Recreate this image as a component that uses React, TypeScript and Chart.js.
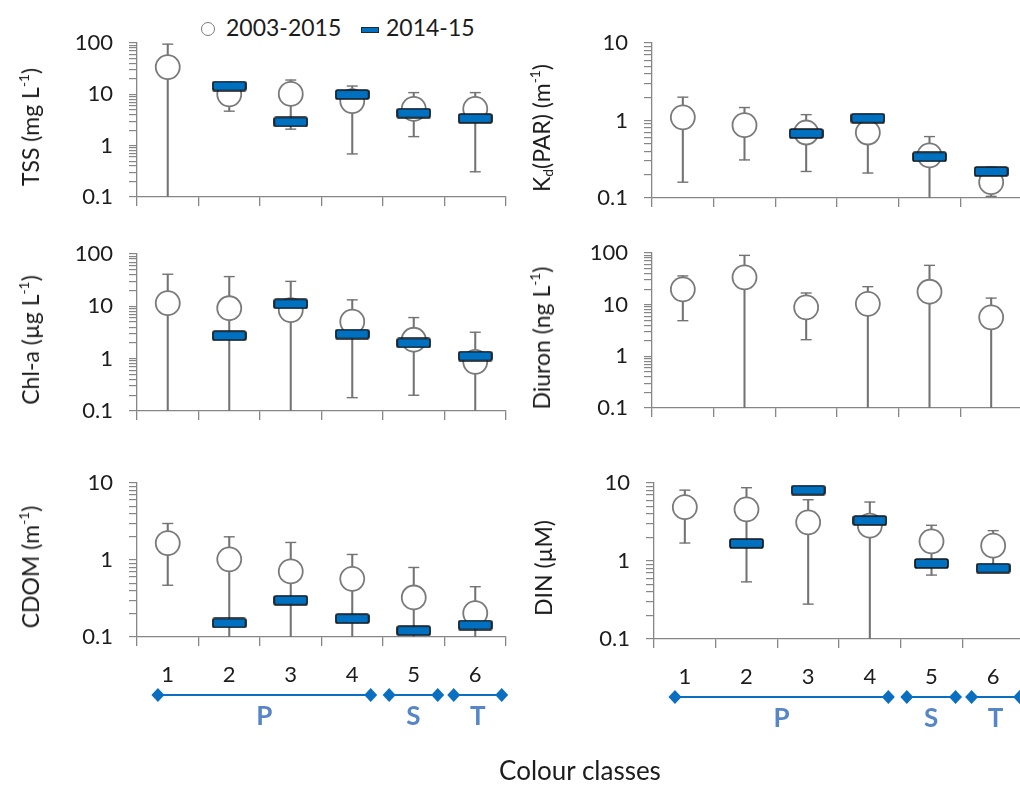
import React, { useEffect, useRef } from 'react';
import { Chart, registerables } from 'chart.js';

Chart.register(...registerables);
Chart.defaults.font.family = 'Lato';

// ---- categories ----
const classLabels = ['1', '2', '3', '4', '5', '6'];
const groupNames = ['P', 'S', 'T'];
// start / end of each group bracket, in colour-class units
const groupSpans = [
  [0.84, 4.3],
  [4.6, 5.39],
  [5.65, 6.43],
];

// ---- TSS (mg L-1) ----
const tssLongTerm = [34, 10, 10.2, 7.4, 5.2, 5.2];
const tssUpper = [95, 14, 19, 14.5, 10.8, 10.8];
const tssLower = [0.05, 4.7, 2.1, 0.69, 1.5, 0.31];
const tss2014 = [null, 14.5, 2.9, 9.9, 4.3, 3.4];
const tssDecades = [0.1, 1, 10, 100];

// ---- Kd(PAR) (m-1) ----
const kdLongTerm = [1.1, 0.87, 0.7, 0.7, 0.355, 0.16];
const kdUpper = [2.0, 1.47, 1.19, 1.2, 0.62, 0.25];
const kdLower = [0.16, 0.31, 0.22, 0.21, 0.05, 0.105];
const kd2014 = [null, null, 0.68, 1.07, 0.34, 0.22];
const kdDecades = [0.1, 1, 10];

// ---- Chl-a (ug L-1) ----
const chlLongTerm = [11.5, 9.2, 8.5, 5.1, 2.3, 0.87];
const chlUpper = [41, 37, 30, 13.3, 6.1, 3.2];
const chlLower = [0.05, 0.05, 0.05, 0.18, 0.2, 0.05];
const chl2014 = [null, 2.75, 11.2, 2.95, 2.0, 1.12];
const chlDecades = [0.1, 1, 10, 100];

// ---- Diuron (ng L-1) ----
const diuronLongTerm = [19.8, 33.8, 8.9, 10.4, 17.8, 5.7];
const diuronUpper = [36, 90, 16.8, 22.3, 57.7, 13.4];
const diuronLower = [4.9, 0.05, 2.1, 0.05, 0.05, 0.05];
const diuron2014 = [null, null, null, null, null, null];
const diuronDecades = [0.1, 1, 10, 100];

// ---- CDOM (m-1) ----
const cdomLongTerm = [1.66, 1.02, 0.71, 0.57, 0.326, 0.204];
const cdomUpper = [2.98, 2.0, 1.69, 1.18, 0.8, 0.45];
const cdomLower = [0.47, 0.05, 0.05, 0.05, 0.05, 0.05];
const cdom2014 = [null, 0.152, 0.3, 0.173, 0.121, 0.143];
const cdomDecades = [0.1, 1, 10];

// ---- DIN (uM) ----
const dinLongTerm = [4.9, 4.6, 3.13, 2.84, 1.79, 1.57];
const dinUpper = [8.1, 8.7, 6.1, 5.7, 2.87, 2.45];
const dinLower = [1.7, 0.54, 0.28, 0.05, 0.66, 0.85];
const din2014 = [null, 1.68, 8.1, 3.3, 0.93, 0.81];
const dinDecades = [0.1, 1, 10];

// ---- styling ----
const AXIS_GREY = '#868686';
const WHISKER_GREY = '#737373';
const CIRCLE_GREY = '#7a7a7a';
const RECENT_BLUE = '#0070c0';
const GROUP_BLUE = '#0a6fc1';
const GROUP_TEXT = '#5686c8';
const TEXT = '#1c1c1c';

const Y_AXIS_W = 110;
const PAD_TOP = 32;
const PAD_RIGHT = 14;
const TICK_FONT = 22;

function logTickValues(decades: number[]) {
  const vals: number[] = [];
  for (let i = 0; i < decades.length - 1; i++) {
    for (let m = 1; m <= 9; m++) vals.push(+(m * decades[i]).toPrecision(6));
  }
  vals.push(decades[decades.length - 1]);
  return vals;
}

function makeRecentMarker(w: number, h: number) {
  const c = document.createElement('canvas');
  c.width = w;
  c.height = h;
  const g = c.getContext('2d')!;
  g.fillStyle = RECENT_BLUE;
  g.strokeStyle = '#141414';
  g.lineWidth = 1.7;
  g.beginPath();
  if ((g as any).roundRect) (g as any).roundRect(1, 1, w - 2, h - 2, 2);
  else g.rect(1, 1, w - 2, h - 2);
  g.fill();
  g.stroke();
  return c;
}

function makeGroupPlugin(spans: number[][], names: string[]) {
  return {
    id: 'classGroups',
    afterDraw(chart: any) {
      const { ctx, chartArea } = chart;
      const xs = chart.scales.x;
      const yLine = chartArea.bottom + 58;
      const yText = chartArea.bottom + 80;
      ctx.save();
      spans.forEach((span, i) => {
        const x0 = xs.getPixelForValue(span[0] - 1);
        const x1 = xs.getPixelForValue(span[1] - 1);
        ctx.strokeStyle = GROUP_BLUE;
        ctx.lineWidth = 2;
        ctx.beginPath();
        ctx.moveTo(x0, yLine);
        ctx.lineTo(x1, yLine);
        ctx.stroke();
        ctx.fillStyle = GROUP_BLUE;
        [x0, x1].forEach((x) => {
          ctx.beginPath();
          ctx.moveTo(x, yLine - 7);
          ctx.lineTo(x + 6.5, yLine);
          ctx.lineTo(x, yLine + 7);
          ctx.lineTo(x - 6.5, yLine);
          ctx.closePath();
          ctx.fill();
        });
        ctx.fillStyle = GROUP_TEXT;
        ctx.font = 'bold 26px Lato';
        ctx.textAlign = 'center';
        ctx.textBaseline = 'middle';
        ctx.fillText(names[i], (x0 + x1) / 2, yText);
      });
      ctx.restore();
    },
  };
}

interface PanelSpec {
  id: string;
  longTerm: number[];
  upper: number[];
  lower: number[];
  recent: (number | null)[];
  decades: number[];
  box: [number, number, number, number];
  classAxis: boolean;
}

const panels: PanelSpec[] = [
  { id: 'tss', longTerm: tssLongTerm, upper: tssUpper, lower: tssLower, recent: tss2014, decades: tssDecades, box: [137, 43, 506, 197], classAxis: false },
  { id: 'kd', longTerm: kdLongTerm, upper: kdUpper, lower: kdLower, recent: kd2014, decades: kdDecades, box: [652, 43, 1022, 198], classAxis: false },
  { id: 'chl', longTerm: chlLongTerm, upper: chlUpper, lower: chlLower, recent: chl2014, decades: chlDecades, box: [137, 254, 506, 411], classAxis: false },
  { id: 'diuron', longTerm: diuronLongTerm, upper: diuronUpper, lower: diuronLower, recent: diuron2014, decades: diuronDecades, box: [652, 253, 1022, 408], classAxis: false },
  { id: 'cdom', longTerm: cdomLongTerm, upper: cdomUpper, lower: cdomLower, recent: cdom2014, decades: cdomDecades, box: [137, 483, 506, 637], classAxis: true },
  { id: 'din', longTerm: dinLongTerm, upper: dinUpper, lower: dinLower, recent: din2014, decades: dinDecades, box: [654, 483, 1024, 639], classAxis: true },
];

const titles: Record<string, React.ReactNode> = {
  tss: <>TSS (mg L<sup>-1</sup>)</>,
  kd: <>K<sub>d</sub>(PAR) (m<sup>-1</sup>)</>,
  chl: <>Chl-a (µg L<sup>-1</sup>)</>,
  diuron: <>Diuron (ng L<sup>-1</sup>)</>,
  cdom: <>CDOM (m<sup>-1</sup>)</>,
  din: <>DIN (µM)</>,
};

function Panel({ spec }: { spec: PanelSpec }) {
  const ref = useRef<HTMLCanvasElement>(null);
  const [x0, y0, x1, y1] = spec.box;
  const xAxisH = spec.classAxis ? 125 : 32;
  const left = x0 - Y_AXIS_W;
  const top = y0 - PAD_TOP;
  const width = x1 - x0 + Y_AXIS_W + PAD_RIGHT;
  const height = y1 - top + xAxisH;

  useEffect(() => {
    const tickVals = logTickValues(spec.decades);
    const marker = makeRecentMarker(35, 11);
    const chart = new Chart(ref.current!, {
      type: 'bar',
      data: {
        labels: classLabels,
        datasets: [
          {
            type: 'line',
            label: '2014-15',
            data: spec.recent,
            showLine: false,
            pointStyle: marker,
            pointRadius: 5,
            order: 0,
            clip: false,
          } as any,
          {
            type: 'line',
            label: '2003-2015',
            data: spec.longTerm,
            showLine: false,
            pointStyle: 'circle',
            pointRadius: 12,
            pointBackgroundColor: '#ffffff',
            pointBorderColor: CIRCLE_GREY,
            pointBorderWidth: 1.8,
            order: 1,
            clip: false,
          },
          {
            type: 'line',
            label: 'upper',
            data: spec.upper,
            showLine: false,
            pointStyle: 'line',
            pointRadius: 5.5,
            pointBorderColor: WHISKER_GREY,
            pointBorderWidth: 1.4,
            order: 2,
            clip: 0,
          },
          {
            type: 'line',
            label: 'lower',
            data: spec.lower,
            showLine: false,
            pointStyle: 'line',
            pointRadius: 5.5,
            pointBorderColor: WHISKER_GREY,
            pointBorderWidth: 1.4,
            order: 2,
            clip: 0,
          },
          {
            type: 'bar',
            label: 'range',
            data: spec.lower.map((lo, i) => [lo, spec.upper[i]]),
            backgroundColor: WHISKER_GREY,
            borderWidth: 0,
            barThickness: 1.4,
            grouped: false,
            order: 3,
            clip: 0,
          } as any,
        ],
      },
      options: {
        responsive: false,
        animation: false,
        devicePixelRatio: 1,
        events: [],
        layout: { padding: { top: PAD_TOP, right: PAD_RIGHT, left: 0, bottom: 0 } },
        plugins: { legend: { display: false }, tooltip: { enabled: false } },
        scales: {
          x: {
            type: 'category',
            offset: true,
            afterFit: (s: any) => {
              s.height = xAxisH;
            },
            grid: {
              offset: true,
              drawOnChartArea: false,
              drawTicks: true,
              tickLength: 9,
              color: AXIS_GREY,
              lineWidth: 1.3,
            },
            border: { display: true, color: AXIS_GREY, width: 1.3 },
            ticks: {
              display: spec.classAxis,
              padding: 16,
              color: TEXT,
              maxRotation: 0,
              font: { family: 'Lato', size: TICK_FONT },
            },
          },
          y: {
            type: 'logarithmic',
            min: spec.decades[0],
            max: spec.decades[spec.decades.length - 1],
            afterFit: (s: any) => {
              s.width = Y_AXIS_W;
            },
            afterBuildTicks: (s: any) => {
              s.ticks = tickVals.map((v) => ({ value: v }));
            },
            grid: {
              drawOnChartArea: false,
              drawTicks: true,
              tickLength: 8,
              color: AXIS_GREY,
              lineWidth: 1.2,
            },
            border: { display: true, color: AXIS_GREY, width: 1.3 },
            ticks: {
              autoSkip: false,
              padding: 16,
              color: TEXT,
              font: { family: 'Lato', size: TICK_FONT },
              callback: (v: any) => (spec.decades.includes(v) ? String(v) : ''),
            },
          },
        },
      } as any,
      plugins: spec.classAxis ? [makeGroupPlugin(groupSpans, groupNames)] : [],
    });
    return () => chart.destroy();
  }, []);

  const titleX = x0 < 300 ? 30 : x0 - 111;
  const titleY = (y0 + y1) / 2 + 7;

  return (
    <>
      <canvas
        ref={ref}
        width={width}
        height={height}
        style={{ position: 'absolute', left, top, width, height }}
      />
      <div
        style={{
          position: 'absolute',
          left: titleX,
          top: titleY,
          transform: 'translate(-50%, -50%) rotate(-90deg)',
          whiteSpace: 'nowrap',
          font: '23px Lato',
          lineHeight: '26px',
          color: TEXT,
        }}
      >
        {titles[spec.id]}
      </div>
    </>
  );
}

const supStyle = `
  .pane sup { font-size: 0.6em; line-height: 0; vertical-align: 0.75em; }
  .pane sub { font-size: 0.6em; line-height: 0; vertical-align: -0.25em; }
`;

export default function App() {
  return (
    <div
      className="pane"
      style={{
        position: 'absolute',
        left: 0,
        top: 0,
        width: 1020,
        height: 785,
        overflow: 'hidden',
        background: '#ffffff',
        fontFamily: 'Lato',
      }}
    >
      <style>{supStyle}</style>
      {/* legend */}
      <div
        style={{
          position: 'absolute',
          left: 201,
          top: 22,
          width: 14,
          height: 14,
          boxSizing: 'border-box',
          border: `1.6px solid ${CIRCLE_GREY}`,
          borderRadius: '50%',
        }}
      />
      <div style={{ position: 'absolute', left: 226, top: 10, font: '23px Lato', lineHeight: '34px', color: TEXT }}>
        2003-2015
      </div>
      <div
        style={{
          position: 'absolute',
          left: 361,
          top: 27,
          width: 18,
          height: 6,
          boxSizing: 'border-box',
          background: RECENT_BLUE,
          border: '1px solid #1a2a3a',
        }}
      />
      <div style={{ position: 'absolute', left: 386, top: 10, font: '23px Lato', lineHeight: '34px', color: TEXT }}>
        2014-15
      </div>

      {panels.map((p) => (
        <Panel key={p.id} spec={p} />
      ))}

      <div
        style={{
          position: 'absolute',
          left: 580,
          top: 754,
          transform: 'translateX(-50%)',
          font: '26px Lato',
          lineHeight: '32px',
          color: TEXT,
          whiteSpace: 'nowrap',
        }}
      >
        Colour classes
      </div>
    </div>
  );
}
